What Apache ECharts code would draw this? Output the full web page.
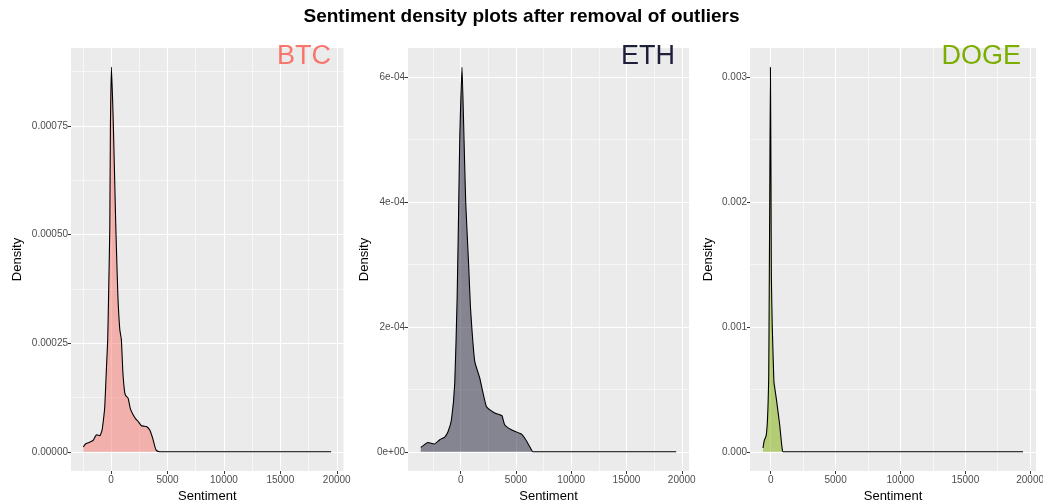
<!DOCTYPE html>
<html>
<head>
<meta charset="utf-8">
<script src="https://cdn.jsdelivr.net/npm/echarts@6/dist/echarts.min.js"></script>
<style>
  html, body { margin: 0; padding: 0; background: #fff; }
  #chart { width: 1043px; height: 504px; }
</style>
</head>
<body>
<div id="chart"></div>
<script>
// density curves (sentiment, density)
var btcSentiment = [-2456, -2276, -1900, -1596, -1300, -1000, -800, -650, -560, -400, -300, -200, -115, -60, 30, 204, 417, 600, 771, 910, 1050, 1214, 1330, 1507, 1700, 1950, 2200, 2393, 2688, 2900, 3131, 3427, 3600, 3720, 3900, 4016, 4317, 19500];
var btcDensity = [0.000011, 0.000018, 0.000022, 0.000026, 0.000039, 0.000037, 0.00005, 0.00008, 0.000104, 0.0002, 0.000258, 0.00039, 0.000518, 0.000748, 0.000885, 0.000748, 0.000518, 0.00036, 0.000281, 0.000258, 0.00018, 0.000135, 0.000128, 0.0001235, 0.0001, 0.000085, 0.000075, 0.00007, 0.00006, 0.000059, 0.000058, 0.00005, 0.000038, 0.000028, 0.00001, 0.000003, 0, 0];

var ethSentiment = [-3617, -2956, -2414, -1899, -1447, -1145, -840, -542, -331, -181, -90, 117, 298, 452, 723, 877, 1266, 1718, 2321, 3074, 3526, 3736, 3978, 4581, 5485, 5786, 6238, 6540, 19500];
var ethDensity = [0.0000069, 0.0000149, 0.0000123, 0.0000192, 0.0000235, 0.0000325, 0.0000512, 0.00011, 0.000243, 0.000398, 0.000499, 0.000615, 0.000499, 0.000398, 0.000296, 0.000232, 0.0001445, 0.000118, 0.0000725, 0.000062, 0.0000592, 0.0000576, 0.0000432, 0.0000352, 0.0000283, 0.0000219, 0.0000085, 0, 0];

var dogeSentiment = [-596, -520, -464, -350, -258, -200, -155, -120, -77, -23, 20, 50, 120, 232, 258, 439, 697, 800, 903, 955, 19450];
var dogeDensity = [0.00003, 0.00008, 0.0001, 0.00013, 0.00024, 0.0004, 0.0006, 0.0012, 0.002, 0.00308, 0.0022, 0.0014, 0.001, 0.0006, 0.00055, 0.00042, 0.00021, 0.0001, 0.00001, 0, 0];

var panelNames = ['BTC', 'ETH', 'DOGE'];
var panelColors = ['#F8766D', '#1F1F3A', '#7CAE00'];

// tick labels
var xTicks = [0, 5000, 10000, 15000, 20000];
var xMinor = [-2500, 2500, 7500, 12500, 17500];
var yTicks = [
  [0, 0.00025, 0.0005, 0.00075],
  [0, 0.0002, 0.0004, 0.0006],
  [0, 0.001, 0.002, 0.003]
];
var yTickLabels = [
  ['0.00000', '0.00025', '0.00050', '0.00075'],
  ['0e+00', '2e-04', '4e-04', '6e-04'],
  ['0.000', '0.001', '0.002', '0.003']
];
var yMinor = [
  [0.000125, 0.000375, 0.000625, 0.000875],
  [0.0001, 0.0003, 0.0005],
  [0.0005, 0.0015, 0.0025]
];

var xRanges = [[-3554, 20598], [-4773, 20656], [-1598, 20452]];
var yRanges = [[-0.0000442, 0.000929], [-0.0000308, 0.000646], [-0.000154, 0.003234]];

var gridBoxes = [
  {left: 71, width: 272.5},
  {left: 408, width: 281},
  {left: 750, width: 286}
];
var nameGaps = [47, 37, 35];
var textRights = [712, 368, 22];

var curves = [
  [btcSentiment, btcDensity],
  [ethSentiment, ethDensity],
  [dogeSentiment, dogeDensity]
];

var myChart = echarts.init(document.getElementById('chart'));

var grids = [], xAxes = [], yAxes = [], series = [];
var titles = [{
  text: 'Sentiment density plots after removal of outliers',
  left: 'center',
  top: 7,
  padding: 0,
  textStyle: {fontFamily: 'Liberation Sans', fontSize: 19, fontWeight: 'bold', color: '#000'}
}];

for (var i = 0; i < 3; i++) {
  grids.push({
    left: gridBoxes[i].left, width: gridBoxes[i].width, top: 48, height: 423,
    outerBoundsMode: 'none', containLabel: false,
    show: true, backgroundColor: '#EBEBEB', borderWidth: 0
  });
  xAxes.push({
    type: 'value', gridIndex: i,
    min: xRanges[i][0], max: xRanges[i][1],
    name: 'Sentiment', nameLocation: 'middle', nameGap: 17,
    nameTextStyle: {fontFamily: 'Liberation Sans', fontSize: 13, color: '#000'},
    axisLine: {show: false, onZero: false},
    axisTick: {show: true, length: 3, customValues: xTicks, lineStyle: {color: '#333', width: 1}},
    axisLabel: {customValues: xTicks, margin: 4, fontFamily: 'Liberation Sans', fontSize: 10, color: '#4D4D4D',
      formatter: function (v) { return String(v); }},
    splitLine: {show: false}
  });
  (function (idx) {
    yAxes.push({
      type: 'value', gridIndex: idx,
      min: yRanges[idx][0], max: yRanges[idx][1],
      name: 'Density', nameLocation: 'middle', nameGap: nameGaps[idx], nameRotate: 90,
      nameTextStyle: {fontFamily: 'Liberation Sans', fontSize: 13, color: '#000'},
      axisLine: {show: false, onZero: false},
      axisTick: {show: true, length: 3, customValues: yTicks[idx], lineStyle: {color: '#333', width: 1}},
      axisLabel: {customValues: yTicks[idx], margin: 3, fontFamily: 'Liberation Sans', fontSize: 10, color: '#4D4D4D',
        formatter: function (v) {
          var k = -1;
          for (var j = 0; j < yTicks[idx].length; j++) {
            if (Math.abs(yTicks[idx][j] - v) < 1e-9) k = j;
          }
          return k >= 0 ? yTickLabels[idx][k] : '';
        }},
      splitLine: {show: false}
    });
  })(i);

  var gridLines = [];
  xTicks.forEach(function (v) { gridLines.push({xAxis: v, lineStyle: {width: 1.1}}); });
  xMinor.forEach(function (v) { gridLines.push({xAxis: v, lineStyle: {width: 0.55}}); });
  yTicks[i].forEach(function (v) { gridLines.push({yAxis: v, lineStyle: {width: 1.1}}); });
  yMinor[i].forEach(function (v) { gridLines.push({yAxis: v, lineStyle: {width: 0.55}}); });

  var pts = curves[i][0].map(function (x, j) { return [x, curves[i][1][j]]; });
  series.push({
    name: panelNames[i],
    type: 'line',
    xAxisIndex: i, yAxisIndex: i,
    data: pts,
    showSymbol: false,
    smooth: 0.15,
    lineStyle: {color: '#000', width: 1.1},
    areaStyle: {color: panelColors[i], opacity: 0.5},
    z: 3,
    markLine: {
      silent: true, z: 1, symbol: ['none', 'none'], animation: false,
      precision: 10,
      label: {show: false},
      emphasis: {disabled: true},
      lineStyle: {color: '#fff', type: 'solid'},
      data: gridLines
    }
  });

  titles.push({
    text: panelNames[i],
    right: textRights[i],
    top: 43,
    padding: 0,
    textStyle: {fontFamily: 'Liberation Sans', fontSize: 27, fontWeight: 'normal', color: panelColors[i]}
  });
}

myChart.setOption({
  animation: false,
  title: titles,
  grid: grids,
  xAxis: xAxes,
  yAxis: yAxes,
  series: series
});
</script>
</body>
</html>
